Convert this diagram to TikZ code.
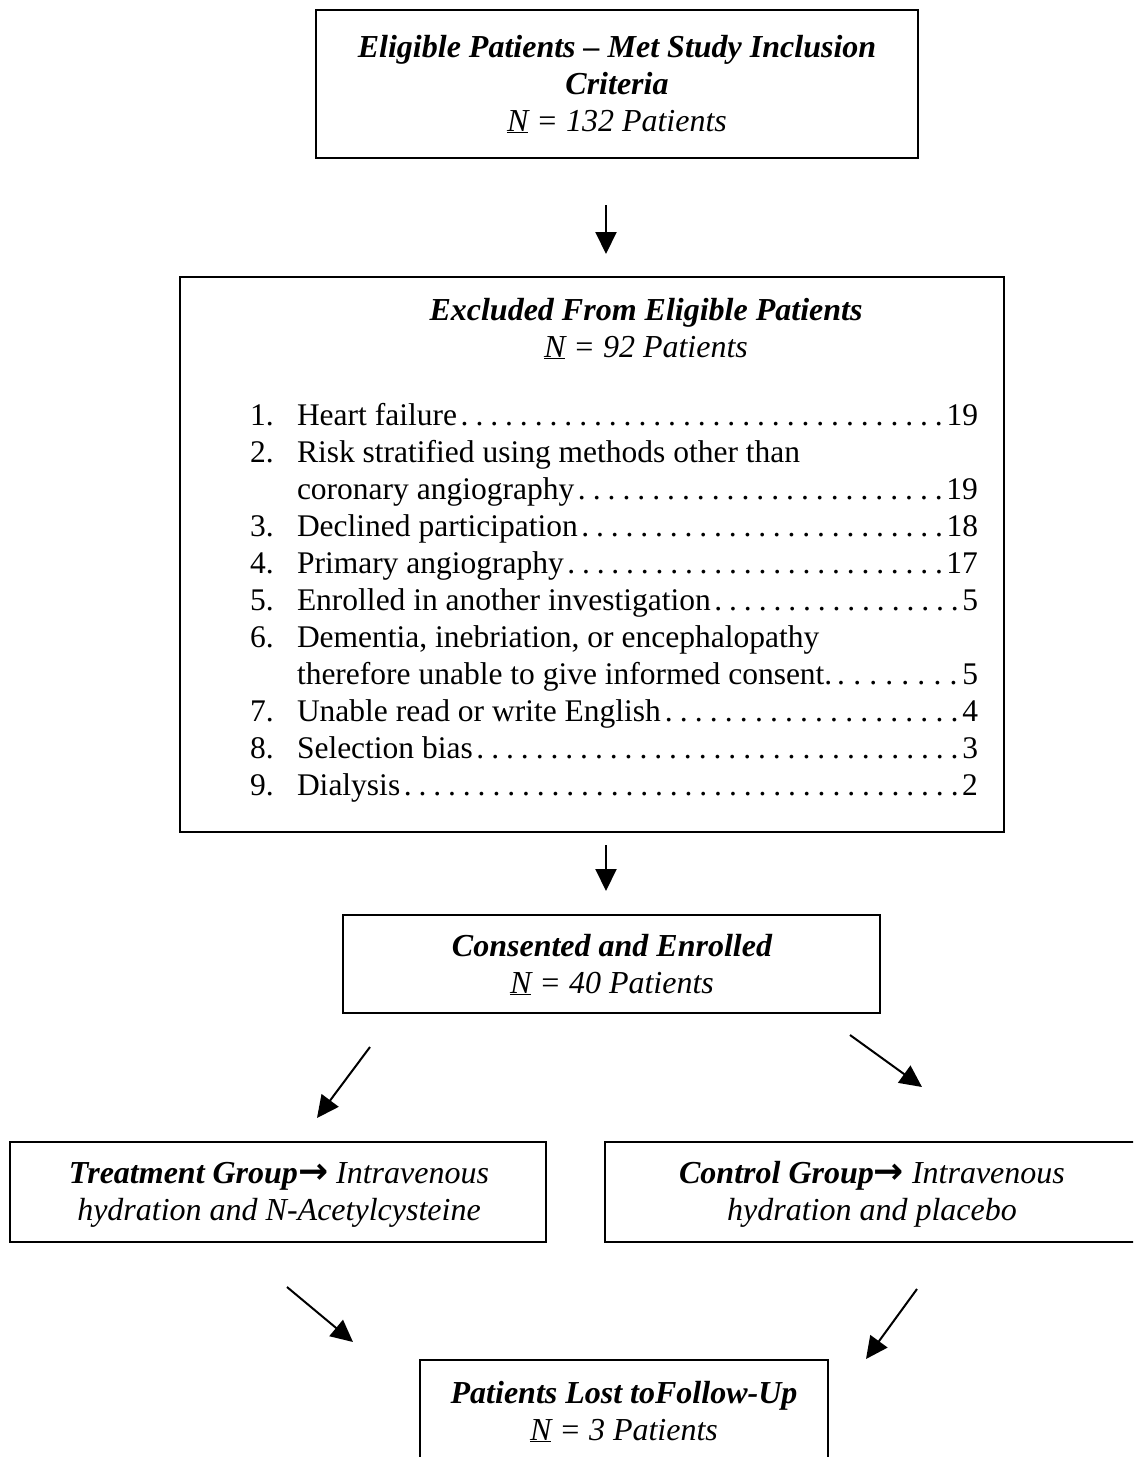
\documentclass[tikz,border=0pt]{standalone}
\usepackage{fontspec}
\setmainfont{Liberation Serif}
\newfontfamily\arrowfont{DejaVu Sans}
\usetikzlibrary{arrows.meta}
\newcommand\lrow[3]{\hbox to 728pt{\hbox to 47pt{#1\hss}#2\xleaders\hbox to 14.5pt{\hss.\hss}\hfill #3}}
\newcommand\lplain[2]{\hbox to 728pt{\hbox to 47pt{#1\hss}#2\hss}}
\newcommand\bi{\bfseries\itshape}
\newcommand\unN{\underline{N}}
\newcommand\garr{{\arrowfont\bfseries\fontsize{36}{37}\selectfont →}}
\begin{document}
\begin{tikzpicture}[x=1pt,y=-1pt,
  box/.style={draw, line width=2.8pt, inner sep=0pt},
  txt/.style={align=center, inner sep=0pt, font=\fontsize{32}{37}\selectfont},
  arr/.style={line width=2pt, -{Triangle[length=22pt,width=21pt]}}]
\useasboundingbox (0,0) rectangle (1133,1457);
\clip (0,0) rectangle (1133,1457);
\fill[white] (0,0) rectangle (1133,1457);
% boxes
\node[box, minimum width=602pt, minimum height=148pt] (elig) at (617,84) {};
\node[txt] (eligt) at (617,84) {{\bi Eligible Patients -- Met Study Inclusion}\\{\bi Criteria}\\{\itshape\unN\ = 132 Patients}};
\node[box, minimum width=824pt, minimum height=555pt] (excl) at (592,554.5) {};
\node[txt] (exclt) at (646,328.5) {{\bi Excluded From Eligible Patients}\\{\itshape\unN\ = 92 Patients}};
\node[txt, align=left, font=\fontsize{31.5}{37}\selectfont] (list) at (614,603) {\vbox{%
\lrow{1.}{Heart failure}{19}
\lplain{2.}{Risk stratified using methods other than}
\lrow{}{coronary angiography}{19}
\lrow{3.}{Declined participation}{18}
\lrow{4.}{Primary angiography}{17}
\lrow{5.}{Enrolled in another investigation}{5}
\lplain{6.}{Dementia, inebriation, or encephalopathy}
\lrow{}{therefore unable to give informed consent.}{5}
\lrow{7.}{Unable read or write English}{4}
\lrow{8.}{Selection bias}{3}
\lrow{9.}{Dialysis}{2}}};
\node[box, minimum width=537pt, minimum height=98pt] (cons) at (611.5,964) {};
\node[txt] (const) at (612,964.5) {{\bi Consented and Enrolled}\\{\itshape\unN\ = 40 Patients}};
\node[box, minimum width=536pt, minimum height=100pt] (treat) at (278,1192) {};
\node[txt] (treatt) at (279,1194.5) {{\bi Treatment Group}\garr{\itshape\ Intravenous}\\{\itshape hydration and N-Acetylcysteine}};
\node[box, minimum width=530pt, minimum height=100pt] (ctrl) at (870,1192) {};
\node[txt] (ctrlt) at (872,1194.5) {{\bi Control Group}\garr{\itshape\ Intravenous}\\{\itshape hydration and placebo}};
\node[box, minimum width=408pt, minimum height=150pt] (lost) at (624,1435) {};
\node[txt] (lostt) at (624,1411.5) {{\bi Patients Lost toFollow-Up}\\{\itshape\unN\ = 3 Patients}};
% arrow end points
\coordinate (a1s) at (606,205); \coordinate (a1e) at (606,254);
\coordinate (a2s) at (606,845); \coordinate (a2e) at (606,891);
\coordinate (a3s) at (370,1047); \coordinate (a3e) at (317,1118);
\coordinate (a4s) at (850,1035); \coordinate (a4e) at (922,1087);
\coordinate (a5s) at (287,1287); \coordinate (a5e) at (353,1342);
\coordinate (a6s) at (917,1289); \coordinate (a6e) at (866,1359);
\draw[arr] (a1s) -- (a1e);
\draw[arr] (a2s) -- (a2e);
\draw[arr] (a3s) -- (a3e);
\draw[arr] (a4s) -- (a4e);
\draw[arr] (a5s) -- (a5e);
\draw[arr] (a6s) -- (a6e);
\end{tikzpicture}
\end{document}
